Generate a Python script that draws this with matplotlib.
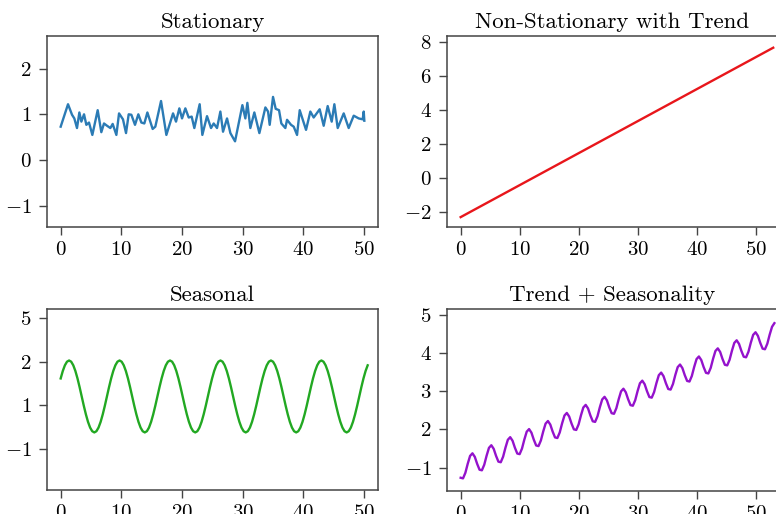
import numpy as np
import matplotlib
matplotlib.use('Agg')
import matplotlib.pyplot as plt

plt.rcParams['font.family'] = 'serif'
plt.rcParams['font.serif'] = ['cmr10']
plt.rcParams['mathtext.fontset'] = 'cm'
plt.rcParams['axes.formatter.use_mathtext'] = True

# stationary noise around 1
stat_x = [0.0, 1.21, 1.87, 2.25, 2.69, 3.08, 3.41, 3.85, 4.23, 4.67, 5.22, 6.10, 6.70, 7.14,
          7.64, 8.19, 8.57, 9.18, 9.62, 10.27, 10.77, 11.21, 11.65, 12.25, 12.80, 13.30, 13.79,
          14.29, 15.16, 15.60, 16.54, 17.42, 18.52, 19.01, 19.56, 20.00, 20.55, 21.10, 21.59,
          22.03, 22.91, 23.35, 24.12, 24.78, 25.22, 25.77, 26.32, 26.76, 27.42, 27.97, 28.74,
          29.95, 30.44, 30.77, 31.26, 31.92, 32.75, 33.74, 34.18, 34.45, 35.00, 35.44, 35.99,
          36.37, 37.03, 37.31, 37.97, 38.41, 38.96, 39.40, 40.44, 41.15, 41.70, 42.03, 42.69,
          43.35, 44.01, 44.67, 45.11, 45.66, 46.65, 47.47, 48.30, 49.12, 49.78, 49.95, 50.05]
stat_y = [0.73, 1.22, 0.99, 0.91, 0.70, 1.04, 0.84, 1.00, 0.77, 0.82, 0.55, 1.09, 0.61, 0.80,
          0.75, 0.70, 0.79, 0.55, 1.02, 0.89, 0.59, 1.00, 0.99, 0.77, 1.00, 0.82, 0.80,
          1.04, 0.68, 0.73, 1.29, 0.55, 1.02, 0.84, 1.13, 0.91, 1.13, 0.93, 0.95,
          0.70, 1.22, 0.55, 0.96, 0.70, 0.80, 0.70, 1.06, 0.62, 0.91, 0.59, 0.41,
          1.20, 0.91, 1.25, 0.70, 1.04, 0.59, 1.15, 1.06, 0.77, 1.38, 1.12, 1.09,
          0.80, 0.70, 0.88, 0.77, 0.73, 0.55, 1.09, 0.66, 1.06, 0.93, 0.99, 1.11,
          0.75, 1.18, 0.84, 1.22, 0.70, 1.02, 0.70, 0.97, 0.91, 0.89, 1.06, 0.86]

# linear trend
trend_x = [0, 53]
trend_y = [-2.3, 7.66]

# seasonal wave
seasonal_y = [
    1.618, 1.788, 1.919, 2.002, 2.030, 2.002, 1.919, 1.788, 1.618, 1.419, 1.205, 0.991,
    0.793, 0.622, 0.491, 0.408, 0.380, 0.408, 0.491, 0.622, 0.793, 0.991, 1.205, 1.419,
    1.618, 1.788, 1.919, 2.002, 2.030, 2.002, 1.919, 1.788, 1.618, 1.419, 1.205, 0.991,
    0.793, 0.622, 0.491, 0.408, 0.380, 0.408, 0.491, 0.622, 0.793, 0.991, 1.205, 1.419,
    1.618, 1.788, 1.919, 2.002, 2.030, 2.002, 1.919, 1.788, 1.618, 1.419, 1.205, 0.991,
    0.793, 0.622, 0.491, 0.408, 0.380, 0.408, 0.491, 0.622, 0.793, 0.991, 1.205, 1.419,
    1.618, 1.788, 1.919, 2.002, 2.030, 2.002, 1.919, 1.788, 1.618, 1.419, 1.205, 0.991,
    0.793, 0.622, 0.491, 0.408, 0.380, 0.408, 0.491, 0.622, 0.793, 0.991, 1.205, 1.419,
    1.618, 1.788, 1.919, 2.002, 2.030, 2.002, 1.919, 1.788, 1.618, 1.419, 1.205, 0.991,
    0.793, 0.622, 0.491, 0.408, 0.380, 0.408, 0.491, 0.622, 0.793, 0.991, 1.205, 1.419,
    1.618, 1.788, 1.919, 2.002, 2.030, 2.002, 1.919, 1.788, 1.618, 1.419, 1.205, 0.991,
    0.793, 0.622, 0.491, 0.408, 0.380, 0.408, 0.491, 0.622, 0.793, 0.991, 1.205, 1.419,
    1.618, 1.788, 1.919]
seasonal_x = np.linspace(0, 50.6, len(seasonal_y))

# trend + seasonality
ts_y = [
    0.734, 0.718, 0.864, 1.101, 1.306, 1.374, 1.281, 1.097,
    0.945, 0.929, 1.075, 1.312, 1.517, 1.585, 1.492, 1.308,
    1.156, 1.140, 1.286, 1.523, 1.728, 1.796, 1.703, 1.519,
    1.368, 1.352, 1.498, 1.735, 1.940, 2.008, 1.915, 1.731,
    1.579, 1.563, 1.709, 1.946, 2.151, 2.219, 2.126, 1.942,
    1.790, 1.774, 1.920, 2.157, 2.362, 2.430, 2.337, 2.153,
    2.001, 1.985, 2.131, 2.368, 2.573, 2.641, 2.548, 2.364,
    2.212, 2.196, 2.342, 2.579, 2.784, 2.852, 2.759, 2.575,
    2.424, 2.408, 2.554, 2.791, 2.996, 3.064, 2.971, 2.787,
    2.635, 2.619, 2.765, 3.002, 3.207, 3.275, 3.182, 2.998,
    2.846, 2.830, 2.976, 3.213, 3.418, 3.486, 3.393, 3.209,
    3.057, 3.041, 3.187, 3.424, 3.629, 3.697, 3.604, 3.420,
    3.268, 3.252, 3.398, 3.635, 3.840, 3.908, 3.815, 3.631,
    3.480, 3.464, 3.610, 3.847, 4.052, 4.120, 4.027, 3.843,
    3.691, 3.675, 3.821, 4.058, 4.263, 4.331, 4.238, 4.054,
    3.902, 3.886, 4.032, 4.269, 4.474, 4.542, 4.449, 4.265,
    4.113, 4.097, 4.243, 4.480, 4.685, 4.780]
ts_x = np.linspace(0, 53.2, len(ts_y))

x_ticks = [0, 10, 20, 30, 40, 50]
seasonal_ticks = [3, 2, 1, 0]
seasonal_labels = ['$5$', '$2$', '$1$', '$-1$']
ts_ticks = [5, 4, 3, 2, 1]
ts_labels = ['$5$', '$4$', '$3$', '$2$', '$-1$']

fig = plt.figure(figsize=(7.76, 5.14), dpi=100)
ax1 = fig.add_axes([0.0606, 0.5584, 0.4265, 0.3716])
ax2 = fig.add_axes([0.576, 0.5584, 0.4265, 0.3716])
ax3 = fig.add_axes([0.0606, 0.0467, 0.4265, 0.3521])
ax4 = fig.add_axes([0.576, 0.0447, 0.4265, 0.3541])

ax1.plot(stat_x, stat_y, color='#2b7bb5', lw=1.7)
ax1.set_xlim(-2.25, 52.3)
ax1.set_ylim(-1.46, 2.71)
ax1.set_yticks([-1, 0, 1, 2])
ax1.set_title('Stationary')

ax2.plot(trend_x, trend_y, color='#e8161b', lw=1.7)
ax2.set_xlim(-2.32, 53.8)
ax2.set_ylim(-2.88, 8.35)
ax2.set_yticks([-2, 0, 2, 4, 6, 8])
ax2.set_title('Non-Stationary with Trend')

ax3.plot(seasonal_x, seasonal_y, color='#22a822', lw=1.7)
ax3.set_xlim(-2.25, 52.3)
ax3.set_ylim(-0.94, 3.21)
ax3.set_yticks(seasonal_ticks)
ax3.set_yticklabels(seasonal_labels)
ax3.set_title('Seasonal')

ax4.plot(ts_x, ts_y, color='#9412cc', lw=1.7)
ax4.set_xlim(-2.32, 53.8)
ax4.set_ylim(0.387, 5.15)
ax4.set_yticks(ts_ticks)
ax4.set_yticklabels(ts_labels)
ax4.set_title('Trend + Seasonality')

for ax in [ax1, ax2, ax3, ax4]:
    ax.set_xticks(x_ticks)
    ax.title.set_fontsize(16.5)
    ax.tick_params(labelsize=15, length=6, width=1, color='#444444', pad=4)
    ax.tick_params(axis='y', pad=5)
    for s in ax.spines.values():
        s.set_color('#444444')
        s.set_linewidth(1.1)

fig.savefig('out.png', dpi=100)
